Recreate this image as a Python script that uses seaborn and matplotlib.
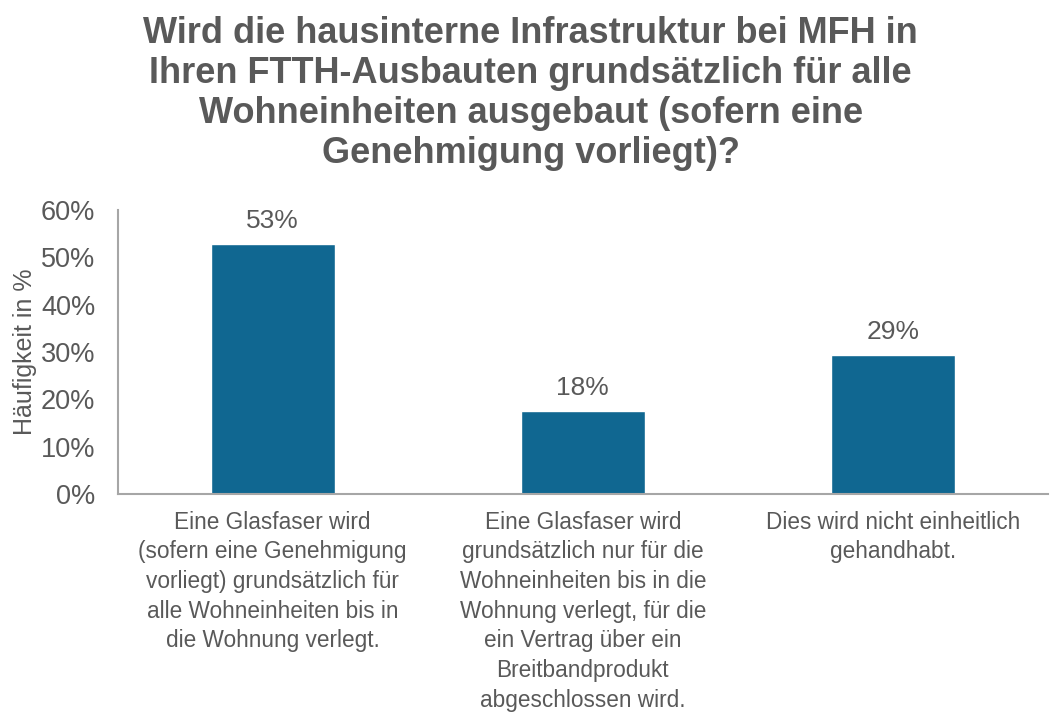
import matplotlib
matplotlib.use("Agg")
import matplotlib.pyplot as plt
import seaborn as sns
import pandas as pd

# Data
categories = [
    "Eine Glasfaser wird\n(sofern eine Genehmigung\nvorliegt) grundsätzlich für\nalle Wohneinheiten bis in\ndie Wohnung verlegt.",
    "Eine Glasfaser wird\ngrundsätzlich nur für die\nWohneinheiten bis in die\nWohnung verlegt, für die\nein Vertrag über ein\nBreitbandprodukt\nabgeschlossen wird.",
    "Dies wird nicht einheitlich\ngehandhabt.",
]
values = [52.9, 17.6, 29.4]
bar_labels = ["53%", "18%", "29%"]
y_ticks = [0, 10, 20, 30, 40, 50, 60]

title = ("Wird die hausinterne Infrastruktur bei MFH in\n"
         "Ihren FTTH-Ausbauten grundsätzlich für alle\n"
         "Wohneinheiten ausgebaut (sofern eine\n"
         "Genehmigung vorliegt)?")

sns.set_style("white")
plt.rcParams["font.family"] = ["Liberation Sans", "DejaVu Sans"]

text_col = "#595959"
bar_col = "#106791"

df = pd.DataFrame({"cat": categories, "val": values})

fig = plt.figure(figsize=(10.51, 7.17), dpi=100)
ax = fig.add_axes([0.112, 0.311, 0.885, 0.396])

sns.barplot(data=df, x="cat", y="val", color=bar_col, width=0.4,
            saturation=1, ax=ax)

# value labels above the bars
for i, (v, lab) in enumerate(zip(values, bar_labels)):
    ax.text(i, v + 2.3, lab, ha="center", va="bottom", fontsize=19, color=text_col)

ax.set_ylim(0, 60)
ax.set_yticks(y_ticks)
ax.set_yticklabels([f"{t}%" for t in y_ticks], fontsize=19.5, color=text_col)
ax.set_xticks(range(len(categories)))
ax.set_xticklabels(categories, fontsize=16.3, color=text_col, linespacing=1.37)
ax.tick_params(axis="both", length=0)
ax.tick_params(axis="x", pad=12)
ax.tick_params(axis="y", pad=16)
ax.set_xlabel("")
ax.set_ylabel("Häufigkeit in %", fontsize=18, color=text_col, labelpad=3)

for s in ["top", "right"]:
    ax.spines[s].set_visible(False)
for s in ["left", "bottom"]:
    ax.spines[s].set_color("#A6A6A6")
    ax.spines[s].set_linewidth(1.5)

fig.text(0.505, 0.978, title, ha="center", va="top", fontsize=26,
         fontweight="bold", color=text_col, linespacing=1.19)

fig.savefig("out.png", dpi=100)
plt.close(fig)
